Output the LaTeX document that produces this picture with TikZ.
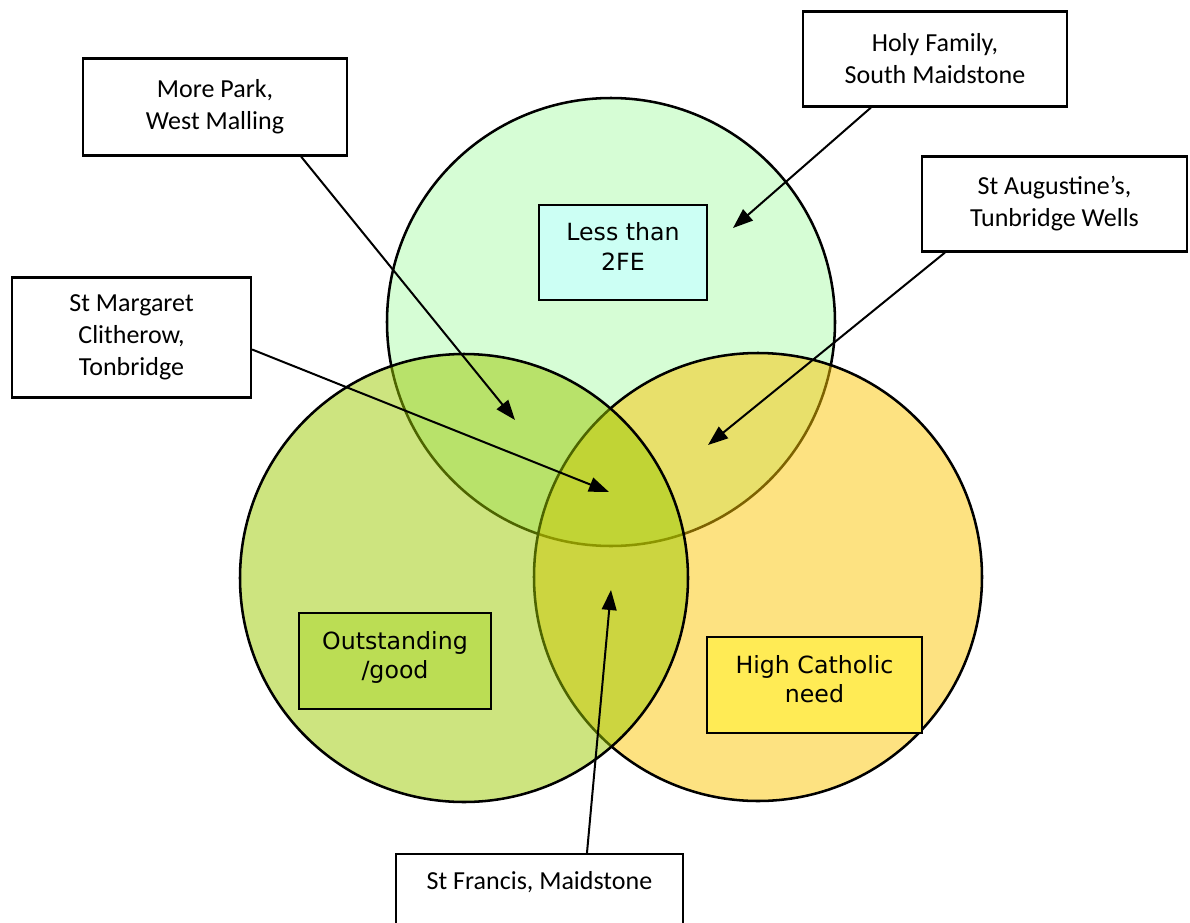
\documentclass[tikz,border=0pt]{standalone}
\usepackage{fontspec}
\setmainfont{Carlito}
\newfontfamily\catfont{DejaVu Sans}
\usepackage{tikz}
\usetikzlibrary{arrows.meta}

\definecolor{fecolor}{RGB}{214,253,213}
\definecolor{goodcolor}{RGB}{155,201,0}
\definecolor{needcolor}{RGB}{251,197,3}
\definecolor{feboxcolor}{RGB}{204,255,244}
\definecolor{goodboxcolor}{RGB}{187,221,84}
\definecolor{needboxcolor}{RGB}{255,235,85}

\begin{document}
\begin{tikzpicture}[x=0.75pt, y=-0.75pt, >={Triangle[length=15pt,width=11pt]},
  school/.style={draw, fill=white, line width=1.7pt, align=center, font=\fontsize{19.5}{24}\selectfont},
  crit/.style={draw, line width=1.7pt, align=center, text depth=9pt, font=\catfont\fontsize{17.75}{22}\selectfont},
  venn/.style={draw, line width=1.9pt}]

\useasboundingbox (0,0) rectangle (1190,922);

% the three circles
\draw[venn, fill=fecolor] (611,322) circle[radius=168pt];
\draw[venn, fill=needcolor, fill opacity=0.5] (758,577) circle[radius=168pt];
\draw[venn, fill=goodcolor, fill opacity=0.5] (464,578) circle[radius=168pt];

\node[crit, fill=feboxcolor, minimum width=126pt, minimum height=71.25pt] (fe) at (623,252.5) {Less than\\2FE};
\node[crit, fill=goodboxcolor, minimum width=144pt, minimum height=72pt] (good) at (395,661) {Outstanding\\/good};
\node[crit, fill=needboxcolor, minimum width=161.25pt, minimum height=72pt] (need) at (814.5,685) {High Catholic\\need};

% schools
\node[school, minimum width=198pt, minimum height=72.75pt] (morepark) at (215,107) {More Park,\\West Malling};
\node[school, minimum width=198pt, minimum height=71.25pt] (holyfam) at (935,59) {Holy Family,\\South Maidstone};
\node[school, minimum width=198.75pt, minimum height=71.25pt] (augustine) at (1054.5,204) {St Augustine’s,\\Tunbridge Wells};
\node[school, minimum width=179.25pt, minimum height=90pt] (margaret) at (131.5,337.5) {St Margaret\\Clitherow,\\Tonbridge};
\node[school, anchor=north, minimum width=215.25pt, inner ysep=13pt, text depth=52pt] (francis) at (539.5,853) {St Francis, Maidstone};

\coordinate (mpTip) at (515,420);
\coordinate (hfTip) at (733,228);
\coordinate (saTip) at (708,445);
\coordinate (smTip) at (609,492);
\coordinate (sfTip) at (611,590);

\path[->, line width=1.5pt]
      ([xshift=-35.25pt]morepark.south east) edge (mpTip)
      ([xshift=51.75pt]holyfam.south west) edge (hfTip)
      ([xshift=18pt]augustine.south west) edge (saTip)
      ([yshift=-9pt]margaret.east) edge (smTip)
      ([xshift=35.6pt]francis.north) edge (sfTip);

\end{tikzpicture}
\end{document}
